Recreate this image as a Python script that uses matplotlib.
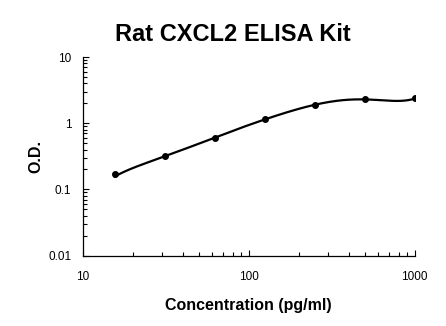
#!/usr/bin/env python3
"""Rat CXCL2 ELISA standard curve (log-log)."""
import matplotlib
matplotlib.use('Agg')
import matplotlib.pyplot as plt
import numpy as np
from matplotlib.ticker import LogLocator, NullFormatter, FixedFormatter, FixedLocator

plt.rcParams['font.family'] = ['Liberation Sans', 'DejaVu Sans']

# measured standards
conc = [15.6, 31.25, 62.5, 125, 250, 500, 1000]
od = [0.173, 0.316, 0.607, 1.14, 1.90, 2.29, 2.42]

# fitted curve
fit_conc = [15.6, 31.25, 62.5, 125, 250, 500, 700, 1000]
fit_od = [0.156, 0.316, 0.607, 1.14, 1.90, 2.29, 2.19, 2.36]

TITLE = 'Rat CXCL2 ELISA Kit'
XLABEL = 'Concentration (pg/ml)'
YLABEL = 'O.D.'

lx = np.log10(fit_conc)
ly = np.log10(fit_od)
coef = np.polyfit(lx, ly, len(lx) - 1)
xs = np.linspace(lx[0], lx[-1], 300)
ys = np.polyval(coef, xs)

fig = plt.figure(figsize=(4.46, 3.26), dpi=100)
ax = fig.add_axes([0.185, 0.216, 0.745, 0.609])

ax.plot(10 ** xs, 10 ** ys, color='black', lw=1.6, zorder=2)
ax.plot(conc, od, 'o', color='black', ms=4, zorder=3)

ax.set_xscale('log')
ax.set_yscale('log')
ax.set_xlim(10, 1000)
ax.set_ylim(0.01, 10)

ax.xaxis.set_major_locator(FixedLocator([10, 100, 1000]))
ax.xaxis.set_major_formatter(FixedFormatter(['10', '100', '1000']))
ax.yaxis.set_major_locator(FixedLocator([0.01, 0.1, 1, 10]))
ax.yaxis.set_major_formatter(FixedFormatter(['0.01', '0.1', '1', '10']))
ax.xaxis.set_minor_locator(LogLocator(base=10, subs=np.arange(2, 10)))
ax.yaxis.set_minor_locator(LogLocator(base=10, subs=np.arange(2, 10)))
ax.xaxis.set_minor_formatter(NullFormatter())
ax.yaxis.set_minor_formatter(NullFormatter())

ax.tick_params(axis='both', which='both', direction='in', width=0.8,
               labelsize=8.5, colors='black')
ax.tick_params(axis='both', which='major', length=4.5)
ax.tick_params(axis='both', which='minor', length=3)
ax.tick_params(axis='x', which='major', pad=11)
ax.tick_params(axis='y', which='major', pad=8)

for side in ('top', 'right'):
    ax.spines[side].set_visible(False)
for side in ('left', 'bottom'):
    ax.spines[side].set_linewidth(0.9)

fig.text(0.523, 0.893, TITLE, ha='center', va='center',
         fontsize=17, fontweight='bold')
ax.set_xlabel(XLABEL, fontsize=11.5, fontweight='bold', labelpad=11)
ax.yaxis.set_label_coords(-0.117, 0.5)
ax.set_ylabel(YLABEL, fontsize=11.5, fontweight='bold')

fig.savefig('out.png', dpi=100)
